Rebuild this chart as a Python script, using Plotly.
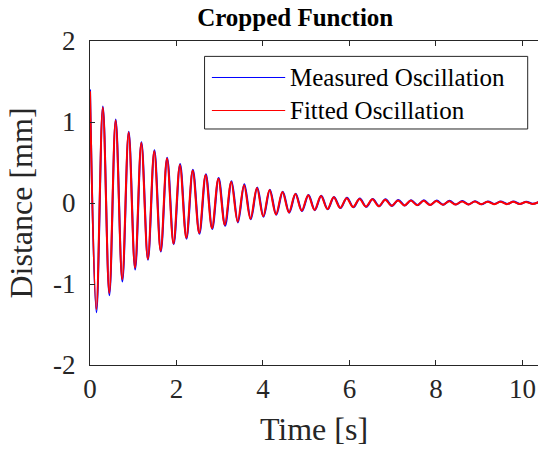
import plotly.graph_objects as go

# Extrema (time [s], distance [mm])
t_fit = [0.000, 0.146, 0.296, 0.446, 0.592, 0.745, 0.893, 1.040, 1.186, 1.337,
         1.485, 1.633, 1.780, 1.930, 2.078, 2.226, 2.374, 2.525, 2.673, 2.820,
         2.968, 3.118, 3.266, 3.414, 3.562, 3.710, 3.860, 4.005, 4.152, 4.300,
         4.450, 4.600, 4.748, 4.895, 5.045, 5.192, 5.340, 5.490, 5.635, 5.785,
         5.935, 6.082, 6.232, 6.380, 6.530, 6.678, 6.826, 6.975, 7.122, 7.270,
         7.418, 7.566, 7.714, 7.862, 8.010, 8.158, 8.306, 8.454, 8.602, 8.750,
         8.898, 9.046, 9.194, 9.342, 9.490, 9.638, 9.786, 9.934, 10.082, 10.230,
         10.378]
y_fit = [1.38, -1.31, 1.18, -1.11, 1.02, -0.94, 0.87, -0.80, 0.74, -0.69,
         0.64, -0.59, 0.55, -0.50, 0.47, -0.43, 0.40, -0.37, 0.345, -0.31,
         0.30, -0.27, 0.26, -0.23, 0.22, -0.195, 0.185, -0.165, 0.16, -0.14,
         0.135, -0.115, 0.11, -0.095, 0.095, -0.085, 0.085, -0.075, 0.07, -0.06,
         0.06, -0.05, 0.05, -0.045, 0.045, -0.04, 0.04, -0.035, 0.032, -0.03,
         0.03, -0.027, 0.027, -0.025, 0.025, -0.022, 0.022, -0.02, 0.02, -0.018,
         0.018, -0.016, 0.016, -0.015, 0.015, -0.014, 0.014, -0.013, 0.013, -0.012,
         0.012]

t_meas = [0.000, 0.148, 0.298, 0.448, 0.595, 0.748, 0.896, 1.044, 1.190, 1.341,
          1.490, 1.638, 1.785, 1.936, 2.084, 2.232, 2.380, 2.531, 2.680, 2.827,
          2.975, 3.125, 3.273, 3.421, 3.569, 3.718, 3.868, 4.013, 4.160, 4.308,
          4.458, 4.608, 4.756, 4.903, 5.053, 5.200, 5.348, 5.498, 5.643, 5.793,
          5.943, 6.090, 6.240, 6.388, 6.538, 6.686, 6.834, 6.983, 7.130, 7.278,
          7.426, 7.574, 7.722, 7.870, 8.018, 8.166, 8.314, 8.462, 8.610, 8.758,
          8.906, 9.054, 9.202, 9.350, 9.498, 9.646, 9.794, 9.942, 10.090, 10.238,
          10.386]
y_meas = [1.40, -1.35, 1.19, -1.14, 1.03, -0.97, 0.88, -0.82, 0.75, -0.70,
          0.65, -0.60, 0.56, -0.51, 0.48, -0.44, 0.41, -0.38, 0.355, -0.32,
          0.31, -0.28, 0.27, -0.24, 0.23, -0.20, 0.19, -0.17, 0.165, -0.145,
          0.14, -0.12, 0.115, -0.10, 0.10, -0.088, 0.09, -0.078, 0.075, -0.063,
          0.065, -0.053, 0.055, -0.047, 0.05, -0.04, 0.045, -0.035, 0.038, -0.03,
          0.035, -0.026, 0.033, -0.024, 0.03, -0.021, 0.027, -0.019, 0.025, -0.017,
          0.022, -0.015, 0.02, -0.013, 0.019, -0.012, 0.017, -0.011, 0.016, -0.01,
          0.015]

x_ticks = [0, 2, 4, 6, 8, 10]
y_ticks = [-2, -1, 0, 1, 2]
y_tick_labels = ["-2", "-1", "0", "1", "2"]
legend_labels = ["Measured Oscillation", "Fitted Oscillation"]

FONT = "Liberation Serif"
AX = "#262626"

fig = go.Figure()
fig.add_trace(go.Scatter(x=t_meas, y=y_meas, mode="lines", name=legend_labels[0],
                         line=dict(color="#0000ff", width=2, shape="spline", smoothing=1),
                         showlegend=False))
fig.add_trace(go.Scatter(x=t_fit, y=y_fit, mode="lines", name=legend_labels[1],
                         line=dict(color="#ff0000", width=2, shape="spline", smoothing=1),
                         showlegend=False))

fig.update_layout(
    width=538, height=453,
    margin=dict(l=90, r=0, t=41, b=88),
    paper_bgcolor="white", plot_bgcolor="white",
    font=dict(family=FONT, color="black"),
    title=dict(text="<b>Cropped Function</b>", font=dict(family=FONT, size=25, color="black"),
               x=0.458, xref="paper", xanchor="center", y=0.962, yref="container", yanchor="middle"),
    xaxis=dict(range=[0, 10.36], tickvals=x_ticks, ticks="inside", ticklen=5, tickcolor=AX,
               showline=True, linecolor=AX, linewidth=1, mirror="ticks",
               showgrid=False, zeroline=False,
               tickfont=dict(family=FONT, size=27, color=AX),
               title=dict(text="Time [s]", font=dict(family=FONT, size=32, color=AX), standoff=14)),
    yaxis=dict(range=[-2, 2], tickvals=y_ticks, ticktext=y_tick_labels, ticks="inside", ticklen=5,
               tickcolor=AX, showline=True, linecolor=AX, linewidth=1, mirror=False,
               showgrid=False, zeroline=False, ticklabelstandoff=8,
               tickfont=dict(family=FONT, size=27, color=AX),
               title=dict(text="Distance [mm]", font=dict(family=FONT, size=32, color=AX), standoff=10)),
)

# Legend box drawn manually (MATLAB style, long line samples)
fig.add_shape(type="rect", xref="paper", yref="paper", x0=0.2557, x1=0.977, y0=0.7284, y1=0.9525,
              line=dict(color=AX, width=1), fillcolor="white", layer="above")
leg_colors = ["#0000ff", "#ff0000"]
leg_y = [0.88735, 0.78549]
for lbl, c, yy in zip(legend_labels, leg_colors, leg_y):
    fig.add_shape(type="line", xref="paper", yref="paper", x0=0.2721, x1=0.4357, y0=yy, y1=yy,
                  line=dict(color=c, width=1), layer="above")
    fig.add_annotation(text=lbl, xref="paper", yref="paper", x=0.4423, y=yy, xanchor="left",
                       yanchor="middle", showarrow=False, font=dict(family=FONT, size=25, color="black"))

fig.write_html("out.html", config={"displayModeBar": False},
               post_script="document.body.style.margin='0';document.documentElement.style.overflow='hidden';")
